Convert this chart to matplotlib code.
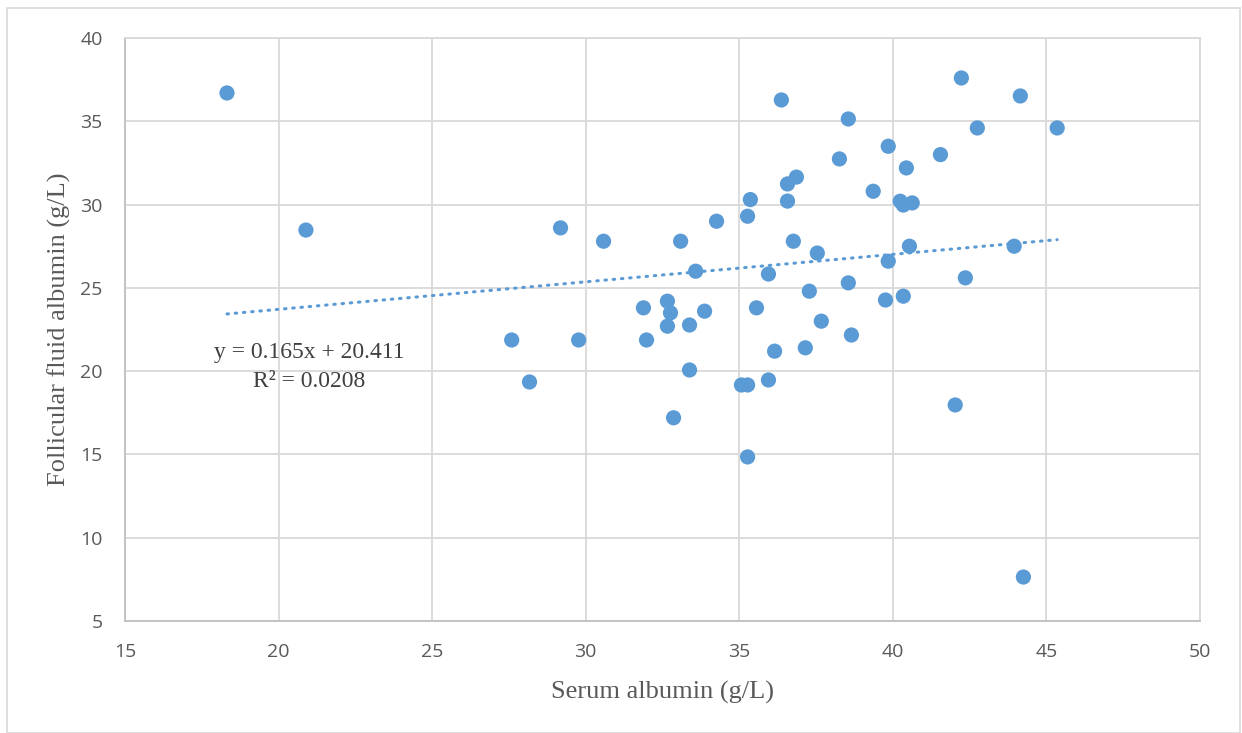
import matplotlib
matplotlib.use("Agg")
import matplotlib.pyplot as plt
from matplotlib.patches import Rectangle
import numpy as np

serum = [18.32, 20.89, 27.59, 28.17, 29.18, 29.77, 30.58, 31.88, 31.98, 32.66,
         32.76, 32.66, 32.86, 33.09, 33.38, 33.38, 33.58, 33.87, 34.26, 35.07,
         35.27, 35.27, 35.36, 35.27, 35.56, 35.95, 35.95, 36.15, 36.37, 36.57,
         36.57, 36.86, 36.76, 37.15, 37.28, 37.54, 37.67, 38.26, 38.55, 38.55,
         38.65, 39.36, 39.76, 39.85, 39.85, 40.24, 40.34, 40.44, 40.34, 40.54,
         40.63, 41.55, 42.03, 42.23, 42.36, 42.75, 43.95, 44.15, 44.25, 45.35]
follicular = [36.7, 28.47, 21.87, 19.35, 28.6, 21.87, 27.8, 23.8, 21.87, 24.2,
              23.5, 22.7, 17.2, 27.8, 22.77, 20.07, 26.0, 23.6, 29.0, 19.17,
              19.17, 29.3, 30.3, 14.85, 23.8, 19.47, 25.83, 21.2, 36.28, 31.24,
              30.21, 31.65, 27.8, 21.4, 24.8, 27.09, 23.0, 32.74, 35.14, 25.3,
              22.17, 30.8, 24.27, 33.5, 26.6, 30.2, 29.97, 32.2, 24.5, 27.5,
              30.1, 33.0, 17.97, 37.6, 25.6, 34.6, 27.5, 36.52, 7.64, 34.6]

slope = 0.165
intercept = 20.411
eq_line1 = "y = 0.165x + 20.411"
eq_line2 = "R² = 0.0208"
xlabel = "Serum albumin (g/L)"
ylabel = "Follicular fluid albumin (g/L)"
xticks = [15, 20, 25, 30, 35, 40, 45, 50]
yticks = [5, 10, 15, 20, 25, 30, 35, 40]

blue = "#5b9bd5"
grid = "#d9d9d9"
tickc = "#595959"

fig = plt.figure(figsize=(12.42, 7.33), dpi=100)
fig.patches.append(Rectangle((7/1242, 0), (1240-7)/1242, 1 - 8/733, transform=fig.transFigure,
                             fill=False, edgecolor="#d9d9d9", linewidth=1.2))
ax = fig.add_axes([125/1242, 1 - 621/733, (1200-125)/1242, (621-38)/733])

ax.set_xlim(15, 50)
ax.set_ylim(5, 40)
ax.set_xticks(xticks)
ax.set_yticks(yticks)
ax.grid(True, color=grid, linewidth=1.3)
ax.set_axisbelow(True)
for s in ax.spines.values():
    s.set_color(grid)
    s.set_linewidth(1.3)
ax.spines['left'].set_color("#bfbfbf")
ax.spines['bottom'].set_color("#bfbfbf")
ax.tick_params(axis='x', length=0, pad=16, labelsize=14, labelcolor=tickc)
ax.tick_params(axis='y', length=0, pad=16, labelsize=14, labelcolor=tickc)
for lab in ax.get_xticklabels() + ax.get_yticklabels():
    lab.set_family("Open Sans")

ax.scatter(serum, follicular, s=120, color=blue, edgecolors="none", zorder=3)

xs = np.array([min(serum), max(serum)])
ax.plot(xs, slope * xs + intercept, color=blue, linewidth=2.2, linestyle=(0, (0.5, 2.2)),
        dash_capstyle="round", zorder=2)

ax.text(21.0, 21.1, eq_line1, ha="center", va="center", fontsize=17,
        family="Liberation Serif", color="#404040")
ax.text(21.0, 19.4, eq_line2, ha="center", va="center", fontsize=17,
        family="Liberation Serif", color="#404040")

ax.set_xlabel(xlabel, fontsize=19, family="Liberation Serif", color=tickc, labelpad=14)
ax.set_ylabel(ylabel, fontsize=19, family="Liberation Serif", color=tickc, labelpad=7)

fig.savefig("out.png", dpi=100)
